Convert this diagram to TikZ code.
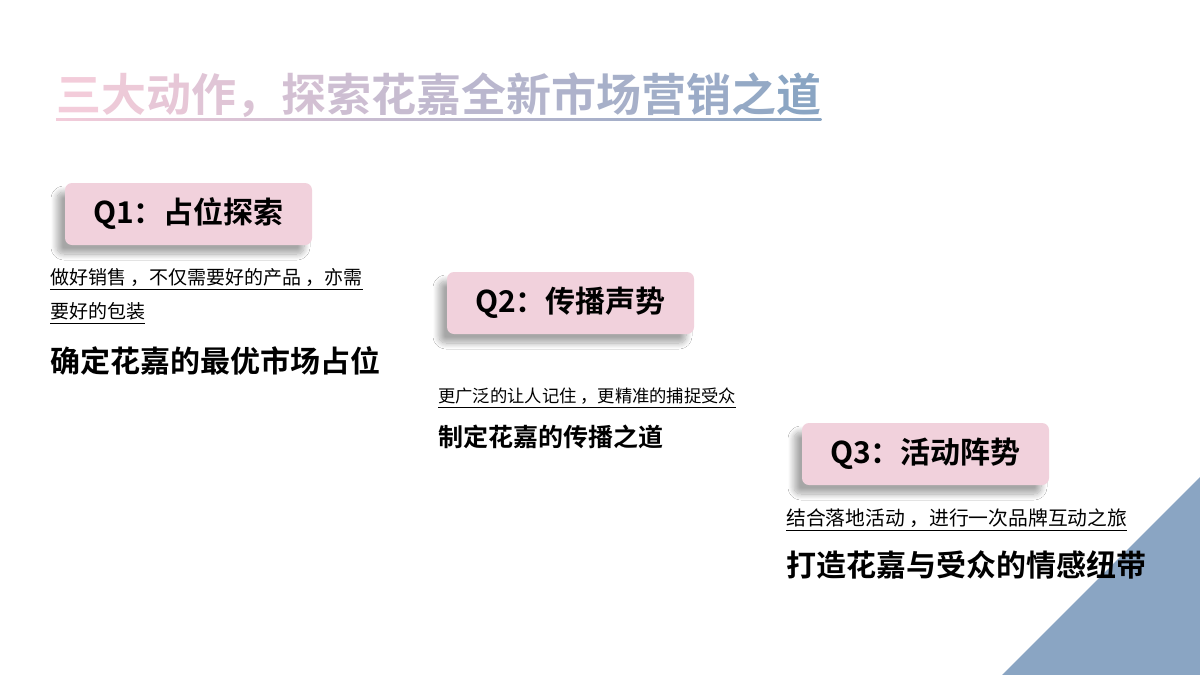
\documentclass[tikz,border=0pt]{standalone}
\usepackage{fontspec}
\setmainfont{Noto Sans CJK SC}[BoldFont={Noto Sans CJK SC Bold}]
\usetikzlibrary{shadows.blur}
\definecolor{pinkbox}{HTML}{F1D1DC}
\definecolor{tpink}{HTML}{F3CCDA}
\definecolor{tblue}{HTML}{8AA5C3}
\newcommand{\gch}[2]{\textcolor{tblue!#1!tpink}{#2}}
\begin{document}
\begin{tikzpicture}[x=1pt,y=-1pt,
  qbox/.style={fill=pinkbox,rounded corners=7pt,minimum width=247pt,minimum height=62pt,
    blur shadow={shadow xshift=-8pt,shadow yshift=-9pt,shadow blur steps=12,shadow blur radius=6pt,shadow opacity=35},
    font=\bfseries\fontsize{30}{33}\selectfont},
  small/.style={anchor=base west,inner sep=0pt,font=\fontsize{19}{22}\selectfont},
  big/.style={anchor=base west,inner sep=0pt,font=\bfseries\fontsize{30}{33}\selectfont},
  ul/.style={line width=0.8pt}]
\useasboundingbox[fill=white] (0,0) rectangle (1200,675);
\fill[tblue] (1002,675) -- (1200,477) -- (1200,675) -- cycle;
% title
\node[anchor=base west,inner sep=0pt,font=\bfseries\fontsize{45}{48}\selectfont] (title) at (56,111)
 {\gch{0}{三}\gch{6}{大}\gch{12}{动}\gch{18}{作}\gch{24}{，}\gch{30}{探}\gch{36}{索}\gch{42}{花}\gch{48}{嘉}\gch{54}{全}\gch{60}{新}\gch{66}{市}\gch{72}{场}\gch{78}{营}\gch{84}{销}\gch{90}{之}\gch{100}{道}};
\shade[left color=tpink,right color=tblue] ([yshift=-7pt]title.base west) rectangle ([yshift=-9pt]title.base east);
% boxes
\node[qbox] (q1) at (188.5,214) {Q1：占位探索};
\node[qbox] (q2) at (570.5,303) {Q2：传播声势};
\node[qbox] (q3) at (925.5,454) {Q3：活动阵势};
% texts
\node[small] (s1a) at (50,284) {做好销售 ，不仅需要好的产品 ，亦需};
\node[small] (s1b) at (50,318) {要好的包装};
\draw[ul] ([yshift=-5pt]s1a.base west) -- ([yshift=-5pt]s1a.base east);
\draw[ul] ([yshift=-5pt]s1b.base west) -- ([yshift=-5pt]s1b.base east);
\node[big] (b1) at (50,372) {确定花嘉的最优市场占位};
\node[small,font=\fontsize{17.3}{19}\selectfont] (s2) at (438,402) {更广泛的让人记住 ，更精准的捕捉受众};
\draw[ul] ([yshift=-5pt]s2.base west) -- ([yshift=-5pt]s2.base east);
\node[big,font=\bfseries\fontsize{25}{27}\selectfont] (b2) at (438,446) {制定花嘉的传播之道};
\node[small,font=\fontsize{19.8}{22}\selectfont] (s3) at (786,525) {结合落地活动 ，进行一次品牌互动之旅};
\draw[ul] ([yshift=-5pt]s3.base west) -- ([yshift=-5pt]s3.base east);
\node[big] (b3) at (786,576) {打造花嘉与受众的情感纽带};
\end{tikzpicture}
\end{document}
